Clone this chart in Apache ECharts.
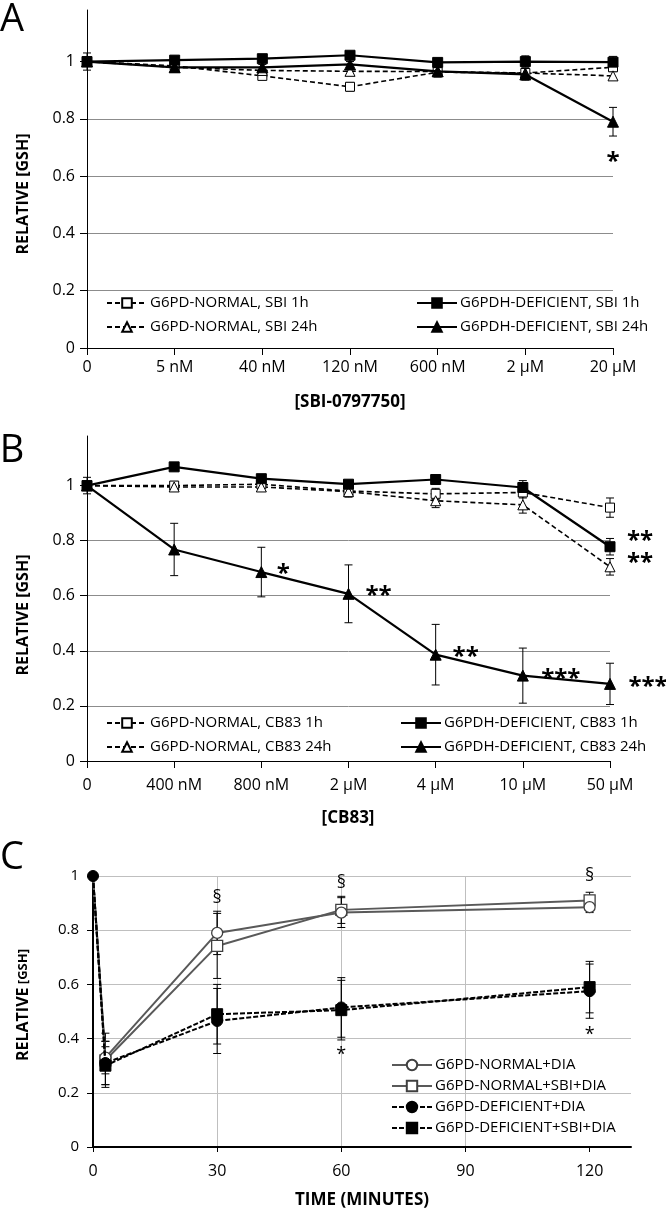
<!DOCTYPE html>
<html><head><meta charset="utf-8">
<script src="https://cdn.jsdelivr.net/npm/echarts@6/dist/echarts.min.js"></script>
<style>html,body{margin:0;padding:0;background:#fff}#c{width:666px;height:1211px}</style>
</head><body><div id="c"></div>
<script>
// ---------- Panel A : [SBI-0797750] ----------
const catsA = ['0', '5 nM', '40 nM', '120 nM', '600 nM', '2 µM', '20 µM'];
const normA1h     = [1, 0.985, 0.950, 0.912, 0.963, 0.960, 0.980];
const normA1hErr  = [0.01, 0.01, 0.01, 0.015, 0.01, 0.012, 0.012];
const normA24h    = [1, 0.980, 0.969, 0.966, 0.965, 0.960, 0.950];
const normA24hErr = [0.01, 0.01, 0.01, 0.015, 0.012, 0.012, 0.015];
const defA1h      = [1, 1.005, 1.010, 1.022, 0.997, 1.000, 0.998];
const defA1hErr   = [0.01, 0.01, 0.01, 0.01, 0.012, 0.02, 0.02];
const defA24h     = [1, 0.980, 0.980, 0.990, 0.966, 0.955, 0.790];
const defA24hErr  = [0.03, 0.01, 0.01, 0.01, 0.02, 0.02, 0.05];
const annotA = [[6, 0.675, '*']];

// ---------- Panel B : [CB83] ----------
const catsB = ['0', '400 nM', '800 nM', '2 µM', '4 µM', '10 µM', '50 µM'];
const normB1h     = [1, 1.000, 1.005, 0.980, 0.970, 0.975, 0.920];
const normB1hErr  = [0.01, 0.015, 0.01, 0.01, 0.02, 0.02, 0.035];
const normB24h    = [1, 0.995, 0.995, 0.978, 0.945, 0.930, 0.705];
const normB24hErr = [0.01, 0.01, 0.015, 0.02, 0.025, 0.03, 0.03];
const defB1h      = [1, 1.068, 1.025, 1.005, 1.022, 0.993, 0.778];
const defB1hErr   = [0.03, 0.01, 0.01, 0.01, 0.01, 0.025, 0.03];
const defB24h     = [1, 0.768, 0.686, 0.607, 0.386, 0.310, 0.280];
const defB24hErr  = [0.01, 0.095, 0.09, 0.105, 0.11, 0.10, 0.075];
const annotB = [[2, 0.70, '*'], [3, 0.62, '**'], [4, 0.40, '**'], [5, 0.32, '***'],
                [6, 0.29, '***'], [6, 0.74, '**'], [6, 0.82, '**']];

// ---------- Panel C : time course ----------
const timeC = [0, 3, 30, 60, 120];
const normDia        = [1, 0.330, 0.790, 0.865, 0.885];
const normDiaErr     = [0, 0.06, 0.08, 0.055, 0.02];
const normSbiDia     = [1, 0.320, 0.742, 0.875, 0.910];
const normSbiDiaErr  = [0, 0.10, 0.12, 0.05, 0.03];
const defDia         = [1, 0.310, 0.465, 0.515, 0.575];
const defDiaErr      = [0, 0.08, 0.12, 0.11, 0.10];
const defSbiDia      = [1, 0.300, 0.490, 0.505, 0.590];
const defSbiDiaErr   = [0, 0.07, 0.11, 0.11, 0.095];
const annotC = [[30, 0.93, '§'], [60, 0.985, '§'], [120, 1.01, '§'], [60, 0.35, '*'], [120, 0.425, '*']];

const yTicksAB = [0, 0.2, 0.4, 0.6, 0.8, 1];
const xTicksC = [0, 30, 60, 90, 120];

// ---------- styling / layout ----------
const FONT = '"Open Sans", "DejaVu Sans", sans-serif';
const offB = [[22, 6], [30, 6], [30, 6], [38, 6], [38, 6], [30, 6], [30, 6]];

function catPoints(vals) { return vals.map((v, i) => [i, v]); }
function xyPoints(xs, vals, hideFirst) {
  return vals.map((v, i) => (hideFirst && i === 0) ? { value: [xs[i], v], symbol: 'none' } : [xs[i], v]);
}

function errBars(xi, yi, xs, vals, errs, color, cap) {
  const data = [];
  vals.forEach((v, i) => { if (errs[i] > 0) data.push([xs ? xs[i] : i, v - errs[i], v + errs[i]]); });
  return {
    type: 'custom', xAxisIndex: xi, yAxisIndex: yi, data, z: 1, silent: true,
    renderItem(params, api) {
      const x = api.value(0);
      const lo = api.coord([x, api.value(1)]);
      const hi = api.coord([x, api.value(2)]);
      const st = { stroke: color, lineWidth: 1 };
      return { type: 'group', children: [
        { type: 'line', shape: { x1: lo[0], y1: lo[1], x2: hi[0], y2: hi[1] }, style: st },
        { type: 'line', shape: { x1: lo[0] - cap, y1: lo[1], x2: lo[0] + cap, y2: lo[1] }, style: st },
        { type: 'line', shape: { x1: hi[0] - cap, y1: hi[1], x2: hi[0] + cap, y2: hi[1] }, style: st }
      ]};
    }
  };
}

function lineSer(name, xi, data, opt) {
  return {
    type: 'line', name, xAxisIndex: xi, yAxisIndex: xi, data,
    symbol: opt.symbol, symbolSize: opt.size, z: opt.z || 3,
    itemStyle: { color: opt.fill, borderColor: opt.border, borderWidth: opt.bw || 1 },
    lineStyle: { color: opt.color, width: opt.width, type: opt.type },
    emphasis: { disabled: true }, animation: false
  };
}

function annotSer(xi, arr, fontSize, offs, dy, weight) {
  return {
    type: 'custom', xAxisIndex: xi, yAxisIndex: xi, silent: true, clip: false, z: 6,
    data: arr.map(a => [a[0], a[1]]),
    renderItem(params, api) {
      const i = params.dataIndex;
      const p = api.coord([api.value(0), api.value(1)]);
      const o = offs ? offs[i] : [0, dy];
      const isStar = arr[i][2].indexOf('*') >= 0;
      return { type: 'text', x: p[0] + o[0], y: p[1] + o[1],
        style: { text: arr[i][2], fontSize, fontWeight: isStar ? weight : 'normal', fontFamily: FONT, fill: '#000', align: 'center', verticalAlign: 'middle' } };
    }
  };
}

const legendCommon = {
  orient: 'vertical', itemWidth: 40, itemHeight: 12, itemGap: 6, padding: 0,
  selectedMode: false,
  textStyle: { fontFamily: FONT, fontSize: 15, color: '#000', lineHeight: 18, padding: [0, 0, 0, -2] }
};

function yAxisAB(g) {
  return {
    type: 'value', gridIndex: g, min: 0, max: 1.18, interval: 0.2,
    axisLine: { show: true, lineStyle: { color: '#000', width: 1 } },
    axisTick: { show: true, length: 7, lineStyle: { color: '#000' }, customValues: yTicksAB },
    axisLabel: { fontSize: 16, color: '#000', fontFamily: FONT, margin: 12, customValues: yTicksAB },
    splitLine: { show: true, showMaxLine: false, lineStyle: { color: '#8c8c8c', width: 1 } }
  };
}
function xAxisAB(g, cats, margin) {
  return {
    type: 'category', gridIndex: g, data: cats, boundaryGap: false,
    axisLine: { lineStyle: { color: '#000', width: 1 } },
    axisTick: { show: true, length: 7, alignWithLabel: true, lineStyle: { color: '#000' } },
    axisLabel: { fontSize: 16, color: '#000', fontFamily: FONT, margin, interval: 0 }
  };
}

const dashN = [5, 3];

const series = [
  // Panel A
  errBars(0, 0, null, normA1h, normA1hErr, '#000', 4),
  errBars(0, 0, null, normA24h, normA24hErr, '#000', 4),
  errBars(0, 0, null, defA24h, defA24hErr, '#000', 4),
  errBars(0, 0, null, defA1h, defA1hErr, '#000', 4),
  lineSer('G6PD-NORMAL, SBI 1h', 0, catPoints(normA1h), { symbol: 'rect', size: 9, fill: '#fff', border: '#000', color: '#000', width: 1.6, type: dashN }),
  lineSer('G6PD-NORMAL, SBI 24h', 0, catPoints(normA24h), { symbol: 'triangle', size: 10, fill: '#fff', border: '#000', color: '#000', width: 1.6, type: dashN }),
  lineSer('G6PDH-DEFICIENT, SBI 24h', 0, catPoints(defA24h), { symbol: 'triangle', size: 11, fill: '#000', border: '#000', color: '#000', width: 2.2, type: 'solid', z: 4 }),
  lineSer('G6PDH-DEFICIENT, SBI 1h', 0, catPoints(defA1h), { symbol: 'rect', size: 10, fill: '#000', border: '#000', color: '#000', width: 2.2, type: 'solid', z: 4 }),
  annotSer(0, annotA, 24, null, 8, 'bold'),
  // Panel B
  errBars(1, 1, null, normB1h, normB1hErr, '#000', 4),
  errBars(1, 1, null, normB24h, normB24hErr, '#000', 4),
  errBars(1, 1, null, defB24h, defB24hErr, '#000', 4),
  errBars(1, 1, null, defB1h, defB1hErr, '#000', 4),
  lineSer('G6PD-NORMAL, CB83 1h', 1, catPoints(normB1h), { symbol: 'rect', size: 9, fill: '#fff', border: '#000', color: '#000', width: 1.6, type: dashN }),
  lineSer('G6PD-NORMAL, CB83 24h', 1, catPoints(normB24h), { symbol: 'triangle', size: 10, fill: '#fff', border: '#000', color: '#000', width: 1.6, type: dashN }),
  lineSer('G6PDH-DEFICIENT, CB83 24h', 1, catPoints(defB24h), { symbol: 'triangle', size: 11, fill: '#000', border: '#000', color: '#000', width: 2.2, type: 'solid', z: 4 }),
  lineSer('G6PDH-DEFICIENT, CB83 1h', 1, catPoints(defB1h), { symbol: 'rect', size: 10, fill: '#000', border: '#000', color: '#000', width: 2.2, type: 'solid', z: 4 }),
  annotSer(1, annotB, 24, offB, 0, 'bold'),
  // Panel C
  errBars(2, 2, timeC, normSbiDia, normSbiDiaErr, '#000', 4),
  errBars(2, 2, timeC, normDia, normDiaErr, '#000', 4),
  errBars(2, 2, timeC, defSbiDia, defSbiDiaErr, '#000', 4),
  errBars(2, 2, timeC, defDia, defDiaErr, '#000', 4),
  lineSer('G6PD-NORMAL+SBI+DIA', 2, xyPoints(timeC, normSbiDia, true), { symbol: 'rect', size: 11, fill: '#fff', border: '#404040', bw: 1.3, color: '#595959', width: 2, type: 'solid' }),
  lineSer('G6PD-NORMAL+DIA', 2, xyPoints(timeC, normDia, true), { symbol: 'circle', size: 11, fill: '#fff', border: '#404040', bw: 1.3, color: '#595959', width: 2, type: 'solid' }),
  lineSer('G6PD-DEFICIENT+SBI+DIA', 2, xyPoints(timeC, defSbiDia, true), { symbol: 'rect', size: 11, fill: '#000', border: '#000', color: '#000', width: 2, type: [5, 2], z: 4 }),
  lineSer('G6PD-DEFICIENT+DIA', 2, xyPoints(timeC, defDia, false), { symbol: 'circle', size: 11, fill: '#000', border: '#000', color: '#000', width: 2, type: [5, 2], z: 4 }),
  annotSer(2, annotC, 18, null, 3, 'normal')
];

const option = {
  backgroundColor: '#fff',
  animation: false,
  grid: [
    { left: 87, top: 10, width: 526, height: 338 },
    { left: 87, top: 436, width: 523, height: 325 },
    { left: 93, top: 876, width: 538, height: 271 }
  ],
  xAxis: [
    xAxisAB(0, catsA, 11),
    xAxisAB(1, catsB, 16),
    {
      type: 'value', gridIndex: 2, min: 0, max: 130, interval: 30,
      axisLine: { show: true, lineStyle: { color: '#000', width: 2 } },
      axisTick: { show: true, length: 5, lineStyle: { color: '#000' }, customValues: xTicksC },
      axisLabel: { fontSize: 16, color: '#000', fontFamily: FONT, margin: 16, customValues: xTicksC },
      splitLine: { show: true, showMinLine: false, showMaxLine: false, lineStyle: { color: '#bfbfbf', width: 1 } }
    }
  ],
  yAxis: [
    yAxisAB(0),
    yAxisAB(1),
    {
      type: 'value', gridIndex: 2, min: 0, max: 1, interval: 0.2,
      axisLine: { show: true, lineStyle: { color: '#000', width: 2 } },
      axisTick: { show: true, length: 6, lineStyle: { color: '#000' } },
      axisLabel: { fontSize: 15, color: '#000', fontFamily: FONT, margin: 14 },
      splitLine: { show: true, showMinLine: false, lineStyle: { color: '#bfbfbf', width: 1 } }
    }
  ],
  legend: [
    Object.assign({}, legendCommon, { data: ['G6PD-NORMAL, SBI 1h', 'G6PD-NORMAL, SBI 24h'], left: 106, top: 294 }),
    Object.assign({}, legendCommon, { data: ['G6PDH-DEFICIENT, SBI 1h', 'G6PDH-DEFICIENT, SBI 24h'], left: 416, top: 294 }),
    Object.assign({}, legendCommon, { data: ['G6PD-NORMAL, CB83 1h', 'G6PD-NORMAL, CB83 24h'], left: 106, top: 714 }),
    Object.assign({}, legendCommon, { data: ['G6PDH-DEFICIENT, CB83 1h', 'G6PDH-DEFICIENT, CB83 24h'], left: 400, top: 714 }),
    Object.assign({}, legendCommon, { data: ['G6PD-NORMAL+DIA', 'G6PD-NORMAL+SBI+DIA', 'G6PD-DEFICIENT+DIA', 'G6PD-DEFICIENT+SBI+DIA'], left: 391, top: 1056, itemGap: 3, itemHeight: 13 })
  ],
  graphic: [
    { type: 'text', x: 12, y: 20, style: { text: 'A', fontSize: 38, fontFamily: FONT, fill: '#000', align: 'center', verticalAlign: 'middle' } },
    { type: 'text', x: 12, y: 451, style: { text: 'B', fontSize: 38, fontFamily: FONT, fill: '#000', align: 'center', verticalAlign: 'middle' } },
    { type: 'text', x: 12, y: 858, style: { text: 'C', fontSize: 38, fontFamily: FONT, fill: '#000', align: 'center', verticalAlign: 'middle' } },
    { type: 'text', x: 23, y: 194, rotation: Math.PI / 2, style: { text: 'RELATIVE [GSH]', fontSize: 16, fontWeight: 'bold', fontFamily: FONT, fill: '#000', align: 'center', verticalAlign: 'middle' } },
    { type: 'text', x: 350, y: 402, style: { text: '[SBI-0797750]', fontSize: 17, fontWeight: 'bold', fontFamily: FONT, fill: '#000', align: 'center', verticalAlign: 'middle' } },
    { type: 'text', x: 23, y: 615, rotation: Math.PI / 2, style: { text: 'RELATIVE [GSH]', fontSize: 16, fontWeight: 'bold', fontFamily: FONT, fill: '#000', align: 'center', verticalAlign: 'middle' } },
    { type: 'text', x: 348, y: 818, style: { text: '[CB83]', fontSize: 17, fontWeight: 'bold', fontFamily: FONT, fill: '#000', align: 'center', verticalAlign: 'middle' } },
    { type: 'text', x: 23, y: 1005, rotation: Math.PI / 2, style: { text: '{a|RELATIVE} {b|[GSH]}', fill: '#000', align: 'center', verticalAlign: 'middle',
        rich: { a: { fontSize: 16, fontWeight: 'bold', fontFamily: FONT }, b: { fontSize: 13, fontWeight: 'bold', fontFamily: FONT } } } },
    { type: 'text', x: 362, y: 1200, style: { text: 'TIME (MINUTES)', fontSize: 17, fontWeight: 'bold', fontFamily: FONT, fill: '#000', align: 'center', verticalAlign: 'middle' } }
  ],
  series
};

const chart = echarts.init(document.getElementById('c'), null, { renderer: 'canvas' });
chart.setOption(option);
</script>
</body></html>
